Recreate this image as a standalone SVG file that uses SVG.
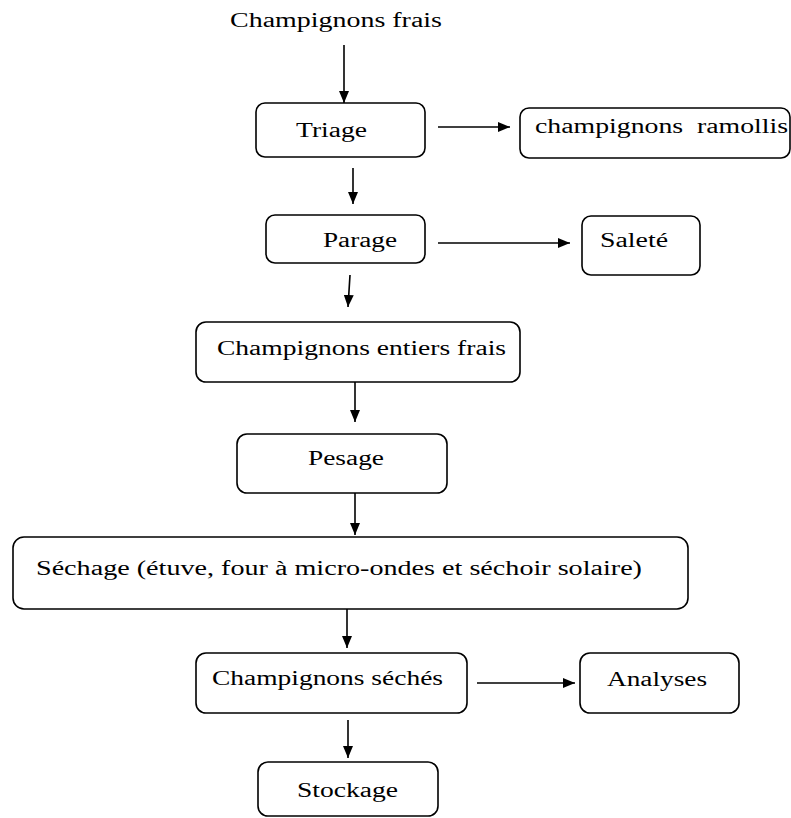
<svg xmlns="http://www.w3.org/2000/svg" width="791" height="818" viewBox="0 0 791 818">
<style>
  .box { fill: #ffffff; stroke: #000000; stroke-width: 1.6; }
  .lbl { font-family: "Liberation Serif", "Times New Roman", serif; font-size: 20px; fill: #000000; }
  .conn { stroke: #000000; stroke-width: 1.6; fill: none; marker-end: url(#ah); }
</style>
<defs>
  <marker id="ah" markerWidth="12" markerHeight="10" refX="12" refY="5" orient="auto" markerUnits="userSpaceOnUse">
    <path d="M0,0 L12,5 L0,10 z" fill="#000000"/>
  </marker>
</defs>
<rect width="791" height="818" fill="#ffffff"/>

<g id="title">
  <text class="lbl" x="230" y="27" textLength="212" lengthAdjust="spacingAndGlyphs">Champignons frais</text>
</g>

<g id="triage">
  <rect class="box" x="256" y="103" width="169" height="54" rx="9"/>
  <text class="lbl" x="296" y="137" textLength="71" lengthAdjust="spacingAndGlyphs">Triage</text>
</g>

<g id="ramollis">
  <rect class="box" x="520" y="108" width="270" height="50" rx="9"/>
  <text class="lbl" x="535" y="133" textLength="253" lengthAdjust="spacingAndGlyphs" xml:space="preserve">champignons  ramollis</text>
</g>

<g id="parage">
  <rect class="box" x="266" y="215" width="159" height="48" rx="9"/>
  <text class="lbl" x="323" y="247" textLength="74" lengthAdjust="spacingAndGlyphs">Parage</text>
</g>

<g id="salete">
  <rect class="box" x="582" y="216" width="118" height="59" rx="9"/>
  <text class="lbl" x="600" y="247" textLength="68" lengthAdjust="spacingAndGlyphs">Saleté</text>
</g>

<g id="entiers">
  <rect class="box" x="196" y="322" width="324" height="60" rx="10"/>
  <text class="lbl" x="217" y="355" textLength="289" lengthAdjust="spacingAndGlyphs">Champignons entiers frais</text>
</g>

<g id="pesage">
  <rect class="box" x="237" y="434" width="210" height="59" rx="10"/>
  <text class="lbl" x="308" y="465" textLength="76" lengthAdjust="spacingAndGlyphs">Pesage</text>
</g>

<g id="sechage">
  <rect class="box" x="13" y="537" width="675" height="72" rx="11"/>
  <text class="lbl" x="36" y="575" textLength="606" lengthAdjust="spacingAndGlyphs">Séchage (étuve, four à micro-ondes et séchoir solaire)</text>
</g>

<g id="seches">
  <rect class="box" x="196" y="653" width="271" height="60" rx="10"/>
  <text class="lbl" x="212" y="685" textLength="231" lengthAdjust="spacingAndGlyphs">Champignons séchés</text>
</g>

<g id="analyses">
  <rect class="box" x="580" y="653" width="159" height="60" rx="10"/>
  <text class="lbl" x="607" y="686" textLength="100" lengthAdjust="spacingAndGlyphs">Analyses</text>
</g>

<g id="stockage">
  <rect class="box" x="258" y="762" width="180" height="54" rx="10"/>
  <text class="lbl" x="297" y="797" textLength="101" lengthAdjust="spacingAndGlyphs">Stockage</text>
</g>

<g id="connectors">
  <line class="conn" x1="344" y1="45" x2="344" y2="103"/>
  <line class="conn" x1="438" y1="127" x2="510" y2="127"/>
  <line class="conn" x1="353" y1="168" x2="353" y2="204"/>
  <line class="conn" x1="438" y1="243" x2="570" y2="243"/>
  <line class="conn" x1="350" y1="275" x2="348" y2="307"/>
  <line class="conn" x1="355" y1="382" x2="355" y2="422"/>
  <line class="conn" x1="355" y1="493" x2="355" y2="535"/>
  <line class="conn" x1="347" y1="609" x2="347" y2="648"/>
  <line class="conn" x1="477" y1="683" x2="575" y2="683"/>
  <line class="conn" x1="348" y1="720" x2="348" y2="758"/>
</g>
</svg>
